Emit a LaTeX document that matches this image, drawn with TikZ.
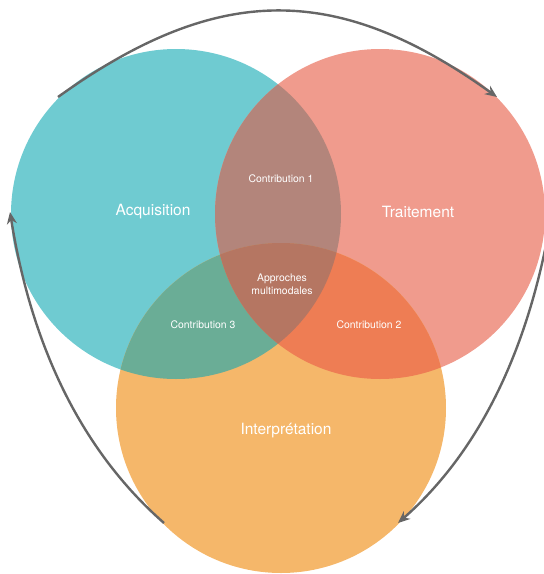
\documentclass[tikz,border=0pt]{standalone}
\usepackage{fontspec}
\setmainfont{TeX Gyre Heros}
\usetikzlibrary{arrows.meta}
\definecolor{cteal}{HTML}{6FCBD1}
\definecolor{csalmon}{HTML}{F09B8D}
\definecolor{corange}{HTML}{F5B76A}
\definecolor{cAB}{HTML}{B3857B}
\definecolor{cAC}{HTML}{6AAD96}
\definecolor{cBC}{HTML}{EE7D54}
\definecolor{cABC}{HTML}{B57662}
\definecolor{carrow}{HTML}{666666}
\begin{document}
\begin{tikzpicture}[x=1pt,y=-1pt,
  biglabel/.style={text=white,font=\fontsize{15.5}{18}\selectfont},
  smalllabel/.style={text=white,font=\fontsize{10.4}{13}\selectfont,align=center},
  cyclearrow/.style={draw=carrow,line width=2.4pt,-{Stealth[length=12pt,width=10pt]}}]
\useasboundingbox (0,0) rectangle (544,574);
% base circles
\fill[cteal] (176,214) circle[radius=165pt];
\fill[csalmon] (380,214) circle[radius=165pt];
\fill[corange] (281,408) circle[radius=165pt];
% pairwise overlaps
\begin{scope}
  \clip (176,214) circle[radius=165pt];
  \fill[cAB] (380,214) circle[radius=165pt];
\end{scope}
\begin{scope}
  \clip (176,214) circle[radius=165pt];
  \fill[cAC] (281,408) circle[radius=165pt];
\end{scope}
\begin{scope}
  \clip (380,214) circle[radius=165pt];
  \fill[cBC] (281,408) circle[radius=165pt];
\end{scope}
\begin{scope}
  \clip (176,214) circle[radius=165pt];
  \clip (380,214) circle[radius=165pt];
  \fill[cABC] (281,408) circle[radius=165pt];
\end{scope}
% labels
\node[biglabel] (acq) at (153,212) {Acquisition};
\node[biglabel] (trt) at (418,212) {Traitement};
\node[biglabel] (itp) at (286,431) {Interprétation};
\node[smalllabel] (c1) at (281,179) {Contribution 1};
\node[smalllabel] (c2) at (369,325) {Contribution 2};
\node[smalllabel] (c3) at (203,325) {Contribution 3};
\node[smalllabel] (am) at (282,284) {Approches\\multimodales};
% arrow ends
\coordinate (ts) at (58,97);
\coordinate (te) at (497,97);
\coordinate (rs) at (552,212);
\coordinate (re) at (398,523);
\coordinate (ls) at (164,523);
\coordinate (le) at (10,212);
\draw[cyclearrow] (ts) .. controls (218,-17.7) and (337,-17.7) .. (te);
\draw[cyclearrow] (rs) .. controls (530,349) and (479,452) .. (re);
\draw[cyclearrow] (ls) .. controls (83,452) and (32,349) .. (le);
\end{tikzpicture}
\end{document}
